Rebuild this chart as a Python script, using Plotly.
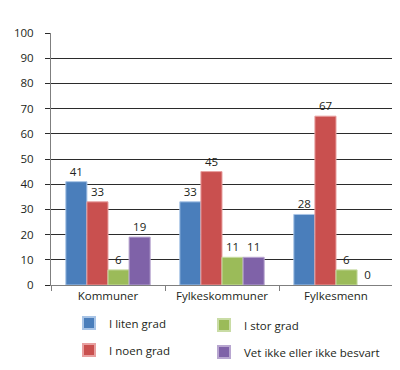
import plotly.graph_objects as go

categories = ["Kommuner", "Fylkeskommuner", "Fylkesmenn"]
series_names = ["I liten grad", "I noen grad", "I stor grad", "Vet ikke eller ikke besvart"]
liten = [41, 33, 28]
noen = [33, 45, 67]
stor = [6, 11, 6]
vet = [19, 11, 0]
y_ticks = [0, 10, 20, 30, 40, 50, 60, 70, 80, 90, 100]

colors = ["#4A7EBB", "#C9504F", "#9BBB59", "#7F62A8"]
lines = ["#A8C4E6", "#E8A0A0", "#C9DCA5", "#B8A6D0"]
values = [liten, noen, stor, vet]
legends = ["legend", "legend2", "legend3", "legend4"]

FONT = "Open Sans"
FS = 11.5
fig = go.Figure()
for name, vals, c, lc, lg in zip(series_names, values, colors, lines, legends):
    fig.add_trace(go.Bar(
        x=categories, y=vals, name=name,
        marker=dict(color=c, line=dict(color=lc, width=[1 if v > 0 else 0 for v in vals])),
        text=[str(v) for v in vals], textposition="outside",
        textfont=dict(family=FONT, size=FS, color="#231f20"),
        cliponaxis=False, legend=lg,
    ))

W, H = 400, 370
def leg(xpx, ypx):
    return dict(xref="container", yref="container", x=xpx / W, y=1 - ypx / H,
                xanchor="left", yanchor="middle", bgcolor="rgba(0,0,0,0)",
                font=dict(family=FONT, size=FS, color="#231f20"),
                itemsizing="constant", borderwidth=0)

fig.update_layout(
    width=W, height=H,
    margin=dict(l=43, r=15, t=25, b=93, autoexpand=False),
    paper_bgcolor="white", plot_bgcolor="white",
    barmode="group", bargap=0.26, bargroupgap=0,
    font=dict(family=FONT, size=FS, color="#231f20"),
    showlegend=True,
    legend=leg(61, 315),
    legend2=leg(61, 342),
    legend3=leg(196, 317),
    legend4=leg(196, 344),
    xaxis=dict(
        showline=True, linecolor="#7f7f7f", linewidth=1,
        ticks="outside", tickson="boundaries", ticklen=5, tickcolor="#7f7f7f",
        tickfont=dict(family=FONT, size=FS, color="#231f20"),
        showgrid=False, fixedrange=True, automargin=False, tickangle=0,
    ),
    yaxis=dict(
        range=[0, 100], tickvals=y_ticks, ticktext=[str(t) for t in y_ticks],
        showgrid=True, gridcolor="#2b2b2b", gridwidth=1,
        showline=True, linecolor="#7f7f7f", linewidth=1,
        ticks="outside", ticklen=5, tickcolor="#2b2b2b",
        tickfont=dict(family=FONT, size=FS, color="#231f20"),
        ticklabelstandoff=9, zeroline=False, fixedrange=True, automargin=False,
    ),
)

fig.write_html("out.html")
